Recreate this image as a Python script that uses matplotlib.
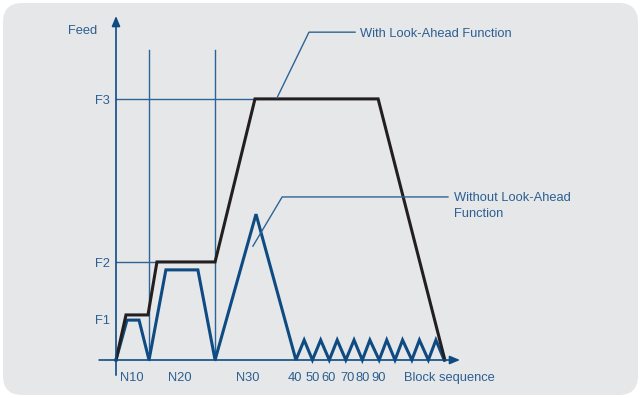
import matplotlib
matplotlib.use("Agg")
import matplotlib.pyplot as plt
from matplotlib.patches import FancyBboxPatch

plt.rcParams['font.family'] = ['Liberation Sans', 'DejaVu Sans']

# colours
bg = '#e6e7e9'
txt_c = '#2c5f92'
blue = '#0e4b82'
thin = '#2d6397'
black = '#231f20'
fs = 9.3

# feed with look-ahead (x = block position, y = feed, both 0..100)
with_x = [0, 2.9, 9.3, 11.9, 28.8, 40.4, 76.2, 95.6]
with_y = [0, 13.1, 13.1, 28.5, 28.5, 75.9, 75.9, 0]

# feed without look-ahead
without_x = [0, 3.2, 6.7, 9.6, 14.5, 23.8, 28.8, 40.7, 52.3,
             54.7, 57.1, 59.5, 62.0, 64.3, 66.8, 69.2, 71.6, 73.8, 76.5,
             78.7, 81.1, 83.3, 86.0, 88.2, 90.8, 93.0, 95.4]
without_y = [0, 11.6, 11.6, 0, 26.2, 26.2, 0, 42.4, 0,
             5.8, 0, 5.8, 0, 5.8, 0, 5.8, 0, 5.8, 0,
             5.8, 0, 5.8, 0, 5.8, 0, 5.8, 0]

# feed levels on the y axis
feed_labels = ['F1', 'F2', 'F3']
feed_levels = [11.9, 28.5, 75.9]

# block boundaries (vertical guide lines)
block_lines = [9.7, 28.8]

# x labels under the axis
block_labels = ['N10', 'N20', 'N30', '40', '50', '60', '70', '80', '90']
block_pos = [4.7, 18.6, 38.4, 52.0, 57.3, 61.9, 67.2, 71.8, 76.2]

fig = plt.figure(figsize=(6.41, 3.98), dpi=100)
fig.patch.set_facecolor('white')
panel = FancyBboxPatch((3 / 641, 3 / 398), 635 / 641, 392 / 398,
                       boxstyle='round,pad=0,rounding_size=0.03',
                       transform=fig.transFigure, facecolor=bg,
                       edgecolor='none', mutation_aspect=641 / 398, zorder=-5)
fig.patches.append(panel)

ax = fig.add_axes([116 / 641, 38 / 398, 344 / 641, 344 / 398])
ax.set_xlim(0, 100)
ax.set_ylim(0, 100)
ax.axis('off')

# axes with arrows
ax.annotate('', xy=(100, 0), xytext=(-4.9, 0),
            arrowprops=dict(arrowstyle='-|>,head_length=0.6,head_width=0.25',
                            color=blue, lw=1.2, shrinkA=0, shrinkB=0),
            annotation_clip=False)
ax.annotate('', xy=(0, 100), xytext=(0, -4.4),
            arrowprops=dict(arrowstyle='-|>,head_length=0.6,head_width=0.25',
                            color=blue, lw=1.2, shrinkA=0, shrinkB=0),
            annotation_clip=False)

# guide lines
for bx in block_lines:
    ax.plot([bx, bx], [0, 90.1], color=thin, lw=1.0, clip_on=False)
ax.plot([0, with_x[5]], [feed_levels[2]] * 2, color=thin, lw=1.0)
ax.plot([0, with_x[3]], [feed_levels[1]] * 2, color=thin, lw=1.0)

# curves
ax.plot(without_x, without_y, color=blue, lw=2.2, solid_joinstyle='miter', clip_on=False)
ax.plot(with_x, with_y, color=black, lw=2.2, solid_joinstyle='miter', clip_on=False)

# callouts
ax.plot([46.8, 56.1, 69.5], [76.2, 95.3, 95.3], color=thin, lw=1.0, clip_on=False)
ax.text(70.9, 94.9, 'With Look-Ahead Function', color=txt_c, fontsize=fs,
        va='center', ha='left')
ax.plot([39.8, 48.3, 96.5], [33.1, 47.4, 47.4], color=thin, lw=1.0, clip_on=False)
ax.text(98.3, 47.0, 'Without Look-Ahead', color=txt_c, fontsize=fs,
        va='center', ha='left')
ax.text(98.3, 42.3, 'Function', color=txt_c, fontsize=fs,
        va='center', ha='left')

# labels
ax.text(-5.5, 95.6, 'Feed', color=txt_c, fontsize=fs, ha='right', va='center')
for lab, lv in zip(feed_labels, feed_levels):
    ax.text(-1.7, lv - 0.5, lab, color=txt_c, fontsize=fs, ha='right', va='center')
for lab, bx in zip(block_labels, block_pos):
    ax.text(bx, -5.3, lab, color=txt_c, fontsize=fs, ha='center', va='center')
ax.text(96.8, -5.3, 'Block sequence', color=txt_c, fontsize=fs,
        ha='center', va='center')

fig.savefig('out.png', dpi=100)
